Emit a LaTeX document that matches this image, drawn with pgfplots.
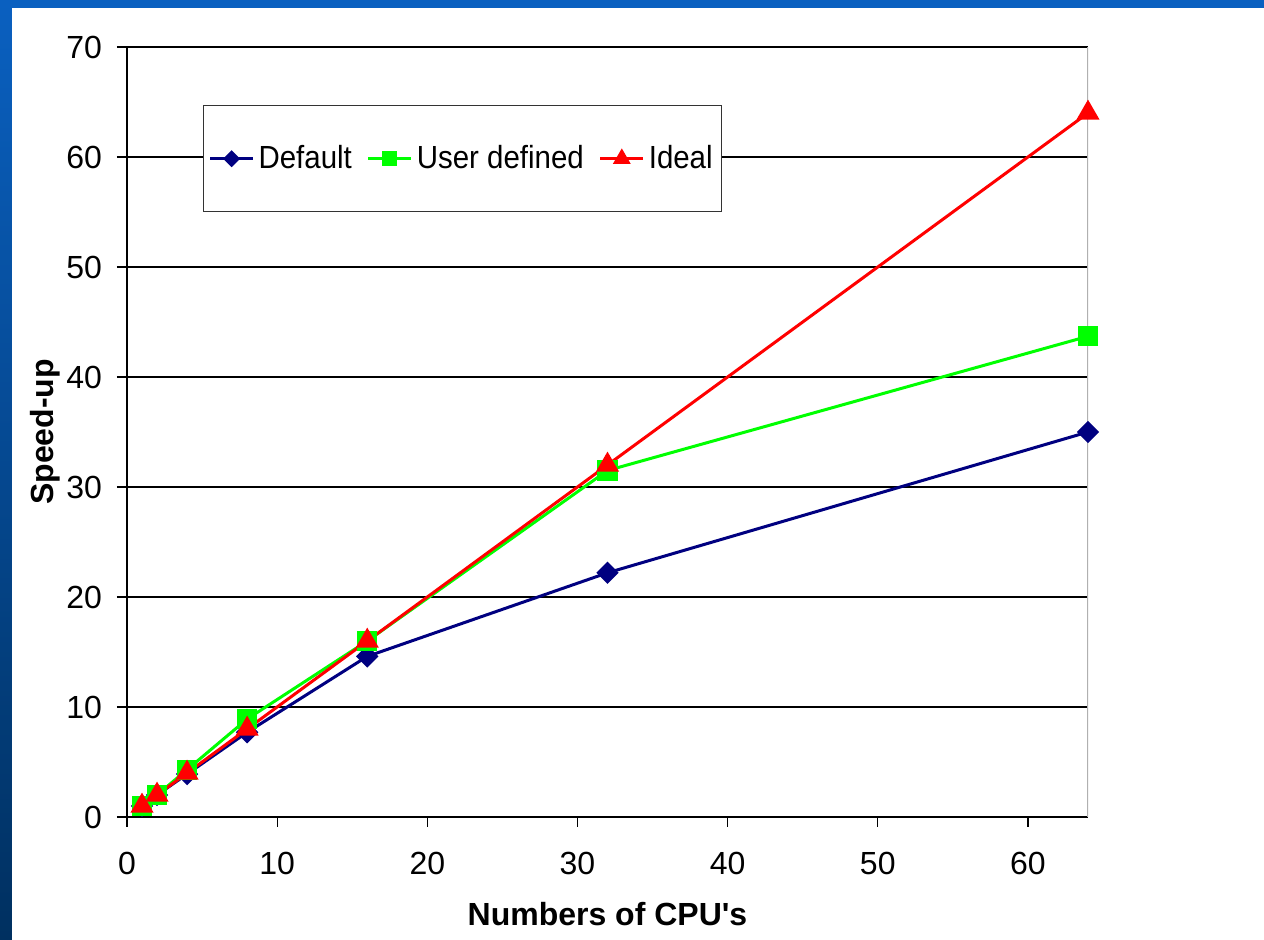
\documentclass[border=0pt]{standalone}
\usepackage{pgfplots}
\pgfplotsset{compat=1.18}
\usepackage{fontspec}
\setmainfont{Liberation Sans}
\newfontfamily\narrowfont[FakeStretch=0.92]{Liberation Sans}
\definecolor{navyline}{RGB}{0,0,128}
\definecolor{greenline}{RGB}{0,255,0}
\definecolor{redline}{RGB}{255,0,0}
\definecolor{bgtop}{RGB}{10,96,192}
\definecolor{bgbot}{RGB}{0,48,96}
\definecolor{bordergray}{RGB}{176,176,176}
\begin{document}
\begin{tikzpicture}
% slide background
\fill[white] (-63.5pt,-61.5pt) rectangle (568.5pt,408.5pt);
\shade[top color=bgtop, bottom color=bgbot] (-63.5pt,-61.5pt) rectangle (-57.5pt,408.5pt);
\fill[bgtop] (-63.5pt,404.5pt) rectangle (568.5pt,408.5pt);
\begin{axis}[
  at={(0,0)}, anchor=south west,
  scale only axis,
  width=480.5pt, height=385pt,
  xmin=0, xmax=64, ymin=0, ymax=70,
  xtick={0,10,20,30,40,50,60},
  ytick={0,10,20,30,40,50,60,70},
  tick align=outside,
  major tick length=5pt,
  tick style={black, line width=0.6pt},
  xtick pos=bottom, ytick pos=left,
  ymajorgrids,
  grid style={black, line width=0.6pt},
  axis line style={line width=0.6pt},
  axis x line*=bottom, axis y line*=left,
  /pgf/number format/assume math mode=true,
  ticklabel style={font=\fontsize{16}{19}\selectfont},
  xticklabel style={yshift=-9pt},
  yticklabel style={xshift=-4pt},
  xlabel={\textbf{Numbers of CPU\textquotesingle s}},
  ylabel={\textbf{Speed-up}},
  label style={font=\fontsize{16}{19}\selectfont},
  xlabel style={yshift=-7pt},
  ylabel style={yshift=-4pt},
  legend columns=3,
  legend style={at={(0.0791,0.9247)}, anchor=north west,
    draw=black!80, line width=0.6pt,
    font=\narrowfont\fontsize{16}{19}\selectfont,
    inner xsep=2.5pt, inner ysep=18pt,
    /tikz/every even column/.append style={column sep=5.5pt}},
  legend image code/.code={%
    \draw[mark repeat=2,mark phase=2,#1,every mark/.append style={scale=0.7}]
      plot coordinates {(0pt,0pt) (10.75pt,0pt) (21.5pt,0pt)};},
  every axis plot/.append style={line width=1.5pt},
]
\draw[bordergray, line width=0.8pt] (rel axis cs:1,0) -- (rel axis cs:1,1);
\addplot[color=navyline, mark=square*, mark size=3.2pt, mark options={rotate=45, solid}]
  coordinates {(1,1) (2,2) (4,3.9) (8,7.7) (16,14.6) (32,22.2) (64,35.0)};
\addlegendentry{Default}
\addplot[color=greenline, mark=square*, mark size=4.3pt]
  coordinates {(1,1) (2,2) (4,4.3) (8,8.9) (16,16) (32,31.5) (64,43.7)};
\addlegendentry{User defined}
\addplot[color=redline, mark=triangle*, mark size=5.2pt]
  coordinates {(1,1) (2,2) (4,4) (8,8) (16,16) (32,32) (64,64)};
\addlegendentry{Ideal}
\end{axis}
\pgfresetboundingbox
\useasboundingbox (-63.5pt,-61.5pt) rectangle (568.5pt,408.5pt);
\end{tikzpicture}
\end{document}
